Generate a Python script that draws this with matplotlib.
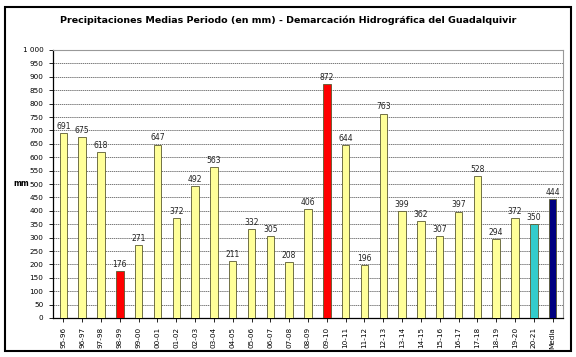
import matplotlib
matplotlib.use("Agg")
import matplotlib.pyplot as plt
from matplotlib.patches import Rectangle
from matplotlib.ticker import FuncFormatter, MultipleLocator

periods = ["95-96", "96-97", "97-98", "98-99", "99-00", "00-01", "01-02", "02-03", "03-04",
           "04-05", "05-06", "06-07", "07-08", "08-09", "09-10", "10-11", "11-12", "12-13",
           "13-14", "14-15", "15-16", "16-17", "17-18", "18-19", "19-20", "20-21", "Media"]
values = [691, 675, 618, 176, 271, 647, 372, 492, 563, 211, 332, 305, 208, 406, 872,
          644, 196, 763, 399, 362, 307, 397, 528, 294, 372, 350, 444]

colors = []
for p, v in zip(periods, values):
    if p == "Media":
        colors.append("#000080")
    elif p == "20-21":
        colors.append("#33CCCC")
    elif p in ("98-99", "09-10"):
        colors.append("#FF0000")
    else:
        colors.append("#FFFF99")

fig = plt.figure(figsize=(5.76, 3.57), dpi=100)
fig.patches.append(Rectangle((5/576, 1-351/357), 566/576, 344/357, transform=fig.transFigure,
                             fill=False, edgecolor="black", linewidth=1.5))
ax = fig.add_axes([53/576, 1-318/357, 510/576, 268/357])

x = list(range(len(periods)))
ax.bar(x, values, width=0.4, color=colors, edgecolor="#5a5a30", linewidth=0.6, zorder=3)
for xi, v in zip(x, values):
    ax.text(xi, v + 8, str(v), ha="center", va="bottom", fontsize=5.5, color="#222222", zorder=4)

ax.set_xlim(-0.55, len(periods) - 0.45)
ax.set_ylim(0, 1000)
ax.yaxis.set_major_locator(MultipleLocator(50))
ax.yaxis.set_major_formatter(FuncFormatter(lambda v, p: f"{int(v):,}".replace(",", " ")))
ax.set_xticks(x)
ax.set_xticklabels(periods, rotation=90, fontsize=5.2)
ax.tick_params(axis="y", labelsize=5.2, length=3, width=0.6, pad=4)
ax.tick_params(axis="x", length=3, width=0.6)
ax.grid(axis="y", linestyle=(0, (2, 1)), color="#444444", linewidth=0.5, zorder=0)
for s in ["top", "right"]:
    ax.spines[s].set_color("#999999")
    ax.spines[s].set_linewidth(0.8)
for s in ["left", "bottom"]:
    ax.spines[s].set_color("black")
    ax.spines[s].set_linewidth(0.9)

fig.text(0.5, 1-20/357, "Precipitaciones Medias Periodo (en mm) - Demarcación Hidrográfica del Guadalquivir",
         ha="center", va="center", fontsize=6.8, fontweight="bold")
fig.text(21/576, 1-184/357, "mm", ha="center", va="center", fontsize=5.5, fontweight="bold")

fig.savefig("out.png", dpi=100)
